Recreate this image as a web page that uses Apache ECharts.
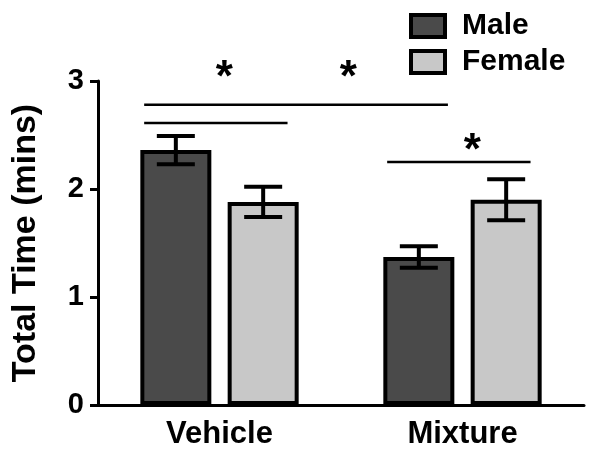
<!DOCTYPE html>
<html>
<head>
<meta charset="utf-8">
<script src="https://cdn.jsdelivr.net/npm/echarts@6/dist/echarts.min.js"></script>
<style>
  html, body { margin: 0; padding: 0; background: #fff; }
  #chart { width: 600px; height: 455px; }
</style>
</head>
<body>
<div id="chart"></div>
<script>
// values
const categories = ['Vehicle', 'Mixture'];
const maleMean = [2.36, 1.37];
const maleSem = [0.13, 0.10];
const femaleMean = [1.88, 1.90];
const femaleSem = [0.14, 0.19];
const yTicks = [0, 1, 2, 3];

// significance brackets in category units: [x1, x2, y]
const sigLines = [[0.19, 1.44, 2.78], [0.19, 0.78, 2.61], [1.19, 1.78, 2.25]];
// stars: [x, y]
const sigStars = [[0.52, 3.02], [1.03, 3.02], [1.54, 2.34]];

const FONT = 'Liberation Sans, Arial, sans-serif';
const BAR_W = 71;
const BAR_GAP = 0.23;
const OFFSET = BAR_W * (1 + BAR_GAP) / 2;

const chart = echarts.init(document.getElementById('chart'));

function errorBar(sign) {
	return function (params, api) {
		const cat = api.value(0);
		const mean = api.value(1);
		const sem = api.value(2);
		const x = api.coord([cat, mean])[0] + sign * OFFSET;
		const hi = api.coord([cat, mean + sem])[1];
		const lo = api.coord([cat, mean - sem])[1];
		const cap = 19;
		const style = { stroke: '#000', lineWidth: 4 };
		return {
			type: 'group',
			children: [
				{ type: 'line', shape: { x1: x, y1: hi, x2: x, y2: lo }, style },
				{ type: 'line', shape: { x1: x - cap, y1: hi, x2: x + cap, y2: hi }, style },
				{ type: 'line', shape: { x1: x - cap, y1: lo, x2: x + cap, y2: lo }, style }
			]
		};
	};
}

const option = {
	animation: false,
	grid: { left: 98, right: 16, top: 81, bottom: 50 },
	legend: {
		data: ['Male', 'Female'],
		orient: 'vertical',
		left: 404,
		top: 6,
		itemWidth: 34,
		itemHeight: 22,
		itemGap: 6,
		icon: 'rect',
		itemStyle: { borderColor: '#000', borderWidth: 4 },
		textStyle: { fontFamily: FONT, fontWeight: 'bold', fontSize: 30, lineHeight: 26, color: '#000', padding: [0, 0, 0, 12] }
	},
	xAxis: [{
		type: 'category',
		data: categories,
		axisLine: { lineStyle: { color: '#000', width: 3 } },
		axisTick: { show: false },
		axisLabel: { fontFamily: FONT, fontWeight: 'bold', fontSize: 31, color: '#000', margin: 14 }
	}, {
		type: 'value',
		min: 0,
		max: 2,
		show: false
	}],
	yAxis: {
		type: 'value',
		min: yTicks[0],
		max: yTicks[yTicks.length - 1],
		interval: 1,
		name: 'Total Time (mins)',
		nameLocation: 'middle',
		nameGap: 55,
		nameTextStyle: { fontFamily: FONT, fontWeight: 'bold', fontSize: 34, color: '#000' },
		axisLine: { show: true, lineStyle: { color: '#000', width: 3 } },
		axisTick: { show: true, length: 8, lineStyle: { color: '#000', width: 3 } },
		axisLabel: { fontFamily: FONT, fontWeight: 'bold', fontSize: 29, color: '#000', margin: 14 },
		splitLine: { show: false }
	},
	series: [{
		name: 'Male',
		type: 'bar',
		data: maleMean,
		barWidth: BAR_W,
		barGap: (BAR_GAP * 100) + '%',
		itemStyle: { color: '#4a4a4a', borderColor: '#000', borderWidth: 4 }
	}, {
		name: 'Female',
		type: 'bar',
		data: femaleMean,
		barWidth: BAR_W,
		itemStyle: { color: '#c8c8c8', borderColor: '#000', borderWidth: 4 }
	}, {
		type: 'custom',
		z: 5,
		renderItem: errorBar(-1),
		data: maleMean.map((v, i) => [i, v, maleSem[i]])
	}, {
		type: 'custom',
		z: 5,
		renderItem: errorBar(1),
		data: femaleMean.map((v, i) => [i, v, femaleSem[i]])
	}, {
		type: 'custom',
		xAxisIndex: 1,
		z: 5,
		renderItem: (params, api) => {
			const a = api.coord([api.value(0), api.value(2)]);
			const b = api.coord([api.value(1), api.value(2)]);
			return {
				type: 'line',
				shape: { x1: a[0], y1: a[1], x2: b[0], y2: b[1] },
				style: { stroke: '#000', lineWidth: 2.5 }
			};
		},
		data: sigLines
	}, {
		type: 'custom',
		xAxisIndex: 1,
		z: 5,
		renderItem: (params, api) => {
			const p = api.coord([api.value(0), api.value(1)]);
			return {
				type: 'text',
				x: p[0],
				y: p[1],
				style: {
					text: '*',
					fontFamily: FONT,
					fontWeight: 'bold',
					fontSize: 44,
					fill: '#000',
					align: 'center',
					verticalAlign: 'middle'
				}
			};
		},
		data: sigStars
	}]
};

chart.setOption(option);
</script>
</body>
</html>
